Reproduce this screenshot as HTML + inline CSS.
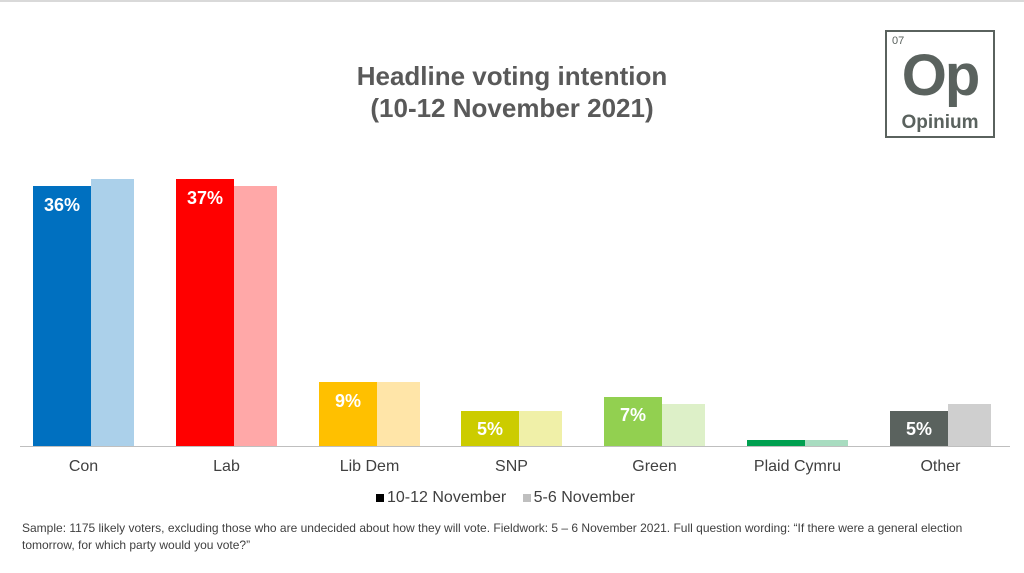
<!DOCTYPE html>
<html><head><style>
body{margin:0;width:1024px;height:573px;background:#fff;font-family:"Liberation Sans",sans-serif;position:relative;overflow:hidden}
.a{position:absolute}
.t{left:0;width:1024px;text-align:center;color:#595959;font-weight:bold;font-size:26px}
.b{position:absolute}
.v{position:absolute;color:#fff;font-weight:bold;font-size:18px;text-align:center;width:58px}
.l{position:absolute;top:458px;width:143px;text-align:center;font-size:16px;color:#404040}
</style></head><body>
<div class="a" style="left:0;top:0;width:1024px;height:2px;background:#d9d9d9"></div>
<div class="a t" style="top:61px">Headline voting intention</div>
<div class="a t" style="top:93px">(10-12 November 2021)</div>
<div class="a" style="left:885px;top:30px;width:110px;height:108px;border:2px solid #5a625e;box-sizing:border-box;color:#5a625e">
<div class="a" style="left:5px;top:3px;font-size:11px">07</div>
<div class="a" style="left:0;width:106px;top:10px;text-align:center;font-size:58px;font-weight:bold;letter-spacing:-2px">Op</div>
<div class="a" style="left:0;width:106px;top:80px;text-align:center;font-size:19px;font-weight:bold">Opinium</div>
</div>
<div class="a" style="left:20px;top:446px;width:990px;height:1px;background:#bfbfbf"></div>
<div class="b" style="left:33px;top:186px;width:58px;height:260px;background:#0070c0"></div>
<div class="b" style="left:91px;top:179px;width:43px;height:267px;background:#abd0ea"></div>
<div class="b" style="left:176px;top:179px;width:58px;height:267px;background:#ff0000"></div>
<div class="b" style="left:234px;top:186px;width:43px;height:260px;background:#ffa8a8"></div>
<div class="b" style="left:319px;top:382px;width:58px;height:64px;background:#ffc000"></div>
<div class="b" style="left:377px;top:382px;width:43px;height:64px;background:#ffe5a8"></div>
<div class="b" style="left:461px;top:411px;width:58px;height:35px;background:#cccc00"></div>
<div class="b" style="left:519px;top:411px;width:43px;height:35px;background:#f0f0a8"></div>
<div class="b" style="left:604px;top:397px;width:58px;height:49px;background:#92d050"></div>
<div class="b" style="left:662px;top:404px;width:43px;height:42px;background:#ddf0c8"></div>
<div class="b" style="left:747px;top:440px;width:58px;height:6px;background:#00a050"></div>
<div class="b" style="left:805px;top:440px;width:43px;height:6px;background:#a8dcc0"></div>
<div class="b" style="left:890px;top:411px;width:58px;height:35px;background:#5a625e"></div>
<div class="b" style="left:948px;top:404px;width:43px;height:42px;background:#cfcfcf"></div>
<div class="v" style="left:33px;top:195px">36%</div>
<div class="v" style="left:176px;top:188px">37%</div>
<div class="v" style="left:319px;top:391px">9%</div>
<div class="v" style="left:461px;top:419px">5%</div>
<div class="v" style="left:604px;top:405px">7%</div>
<div class="v" style="left:890px;top:419px">5%</div>
<div class="l" style="left:12px">Con</div>
<div class="l" style="left:155px">Lab</div>
<div class="l" style="left:298px">Lib Dem</div>
<div class="l" style="left:440px">SNP</div>
<div class="l" style="left:583px">Green</div>
<div class="l" style="left:726px">Plaid Cymru</div>
<div class="l" style="left:869px">Other</div>
<div class="a" style="left:376px;top:489px;font-size:16px;color:#404040"><span style="display:inline-block;width:8px;height:8px;background:#000;margin-right:3px"></span>10-12 November <span style="display:inline-block;width:8px;height:8px;background:#bfbfbf;margin:0 3px 0 12px"></span>5-6 November</div>
<div class="a" style="left:22px;top:520px;width:980px;font-size:12px;line-height:17px;color:#404040">Sample: 1175 likely voters, excluding those who are undecided about how they will vote. Fieldwork: 5 – 6 November 2021. Full question wording: “If there were a general election tomorrow, for which party would you vote?”</div>
</body></html>
